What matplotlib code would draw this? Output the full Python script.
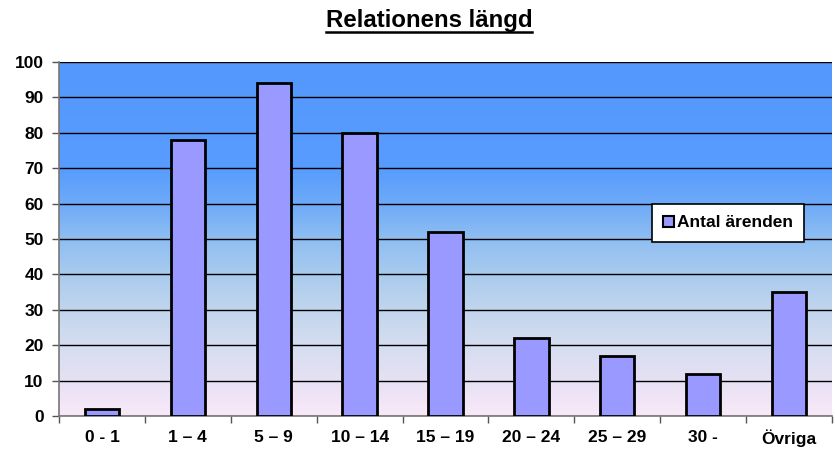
import numpy as np
import matplotlib
matplotlib.use("Agg")
import matplotlib.pyplot as plt
from matplotlib.colors import LinearSegmentedColormap
from matplotlib.lines import Line2D

plt.rcParams["font.family"] = ["Liberation Sans", "DejaVu Sans"]

categories = ["0 - 1", "1 – 4", "5 – 9", "10 – 14", "15 – 19", "20 – 24", "25 – 29", "30 -", "Övriga"]
antal = [2, 78, 94, 80, 52, 22, 17, 12, 35]
yticks = list(range(0, 101, 10))

# background gradient stops (position from bottom, colour)
bg_stops = [
    (0.0, "#f9e9f8"),
    (0.1, "#e6e1f4"),
    (0.2, "#d5ddf0"),
    (0.3, "#c1d5ed"),
    (0.4, "#a9cbee"),
    (0.5, "#8fbef2"),
    (0.6, "#6eaaf8"),
    (0.7, "#579cfd"),
    (1.0, "#5598fe"),
]


def build_figure():
    fig = plt.figure(figsize=(8.35, 4.54), dpi=100)
    ax = fig.add_axes([59 / 835, 38 / 454, 773 / 835, 354 / 454])

    cmap = LinearSegmentedColormap.from_list("bg", bg_stops)
    grad = np.linspace(0, 1, 256).reshape(-1, 1)
    ax.imshow(grad, aspect="auto", cmap=cmap, origin="lower",
              extent=[0, 1, 0, 1], transform=ax.transAxes, zorder=0)

    x = np.arange(len(categories))
    ax.bar(x, antal, width=0.4, color="#9999ff", edgecolor="black",
           linewidth=2, zorder=3, label="Antal ärenden")

    ax.set_xlim(-0.5, len(categories) - 0.5)
    ax.set_ylim(0, 100)
    ax.set_yticks(yticks)
    ax.set_yticklabels([str(v) for v in yticks], fontsize=12.5, fontweight="bold")
    ax.set_xticks(x)
    ax.set_xticklabels(categories, fontsize=12.5, fontweight="bold")
    ax.tick_params(axis="x", length=0, pad=10)
    ax.tick_params(axis="y", length=5, width=1, color="#555555", pad=6)
    ax.set_xticks(np.arange(-0.5, len(categories)), minor=True)
    ax.tick_params(axis="x", which="minor", length=5, width=1, color="#555555")

    ax.yaxis.grid(True, color="black", linewidth=1, zorder=1)
    ax.set_axisbelow(True)
    for side in ["top", "right"]:
        ax.spines[side].set_visible(False)
    ax.spines["left"].set_color("#777777")
    ax.spines["bottom"].set_color("#777777")
    ax.spines["left"].set_linewidth(1.2)
    ax.spines["bottom"].set_linewidth(1.2)

    leg = ax.legend(loc="upper left", bbox_to_anchor=(593 / 773, 212 / 354),
                    prop={"weight": "bold", "size": 12.5},
                    fancybox=False, framealpha=1, edgecolor="black",
                    handlelength=0.6, handleheight=0.6, handletextpad=0.2,
                    borderpad=0.65, borderaxespad=0)
    leg.get_frame().set_linewidth(1.2)
    for h in leg.legend_handles:
        h.set_linewidth(1.5)

    title = fig.text(429 / 835, 1 - 20 / 454, "Relationens längd", ha="center",
                     va="center", fontsize=17.3, fontweight="bold")
    fig.canvas.draw()
    bb = title.get_window_extent().transformed(fig.transFigure.inverted())
    yline = bb.y0 - 0.002
    fig.add_artist(Line2D([bb.x0, bb.x1], [yline, yline], transform=fig.transFigure,
                          color="black", linewidth=1.8))
    return fig


def main():
    fig = build_figure()
    fig.savefig("out.png", dpi=100)


if __name__ == "__main__":
    main()
